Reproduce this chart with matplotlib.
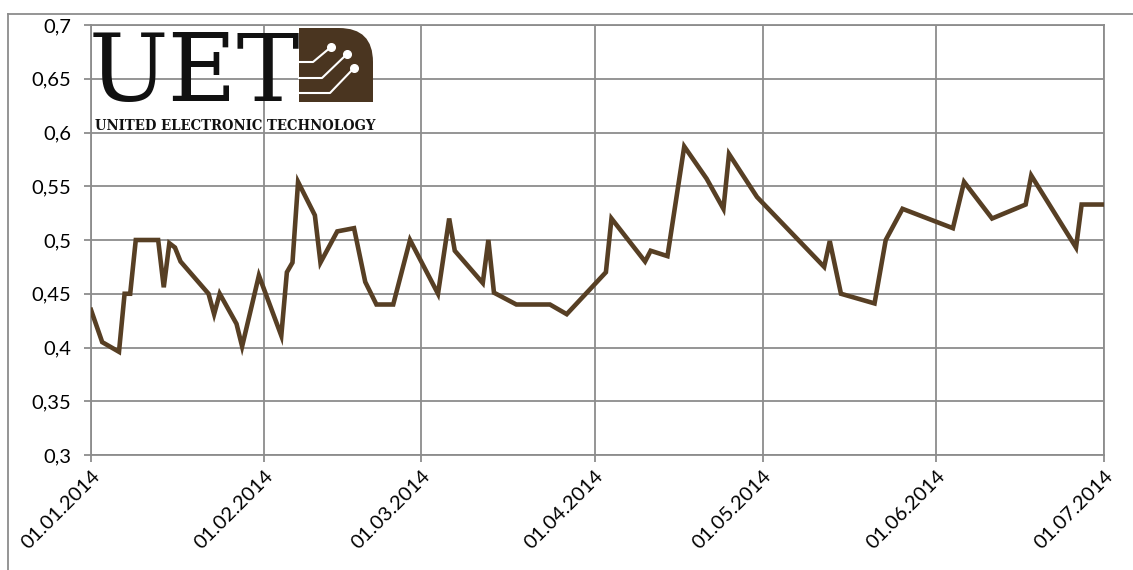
import pandas as pd
import matplotlib
matplotlib.use("Agg")
from matplotlib import pyplot as plt
from matplotlib.path import Path
from matplotlib.patches import PathPatch
from matplotlib.lines import Line2D

plt.rcParams['font.family'] = ['Lato', 'DejaVu Sans']

# данные
dates = ["01.01.2014", "03.01.2014", "06.01.2014", "07.01.2014", "08.01.2014", "09.01.2014",
         "13.01.2014", "14.01.2014", "15.01.2014", "16.01.2014", "17.01.2014", "22.01.2014",
         "23.01.2014", "24.01.2014", "27.01.2014", "28.01.2014", "31.01.2014", "04.02.2014",
         "05.02.2014", "06.02.2014", "07.02.2014", "10.02.2014", "11.02.2014", "14.02.2014",
         "17.02.2014", "19.02.2014", "21.02.2014", "24.02.2014", "26.02.2014", "27.02.2014",
         "04.03.2014", "06.03.2014", "07.03.2014", "12.03.2014", "13.03.2014", "14.03.2014",
         "18.03.2014", "24.03.2014", "27.03.2014", "03.04.2014", "04.04.2014", "10.04.2014",
         "11.04.2014", "14.04.2014", "17.04.2014", "21.04.2014", "24.04.2014", "25.04.2014",
         "30.04.2014", "12.05.2014", "13.05.2014", "15.05.2014", "21.05.2014", "23.05.2014",
         "26.05.2014", "04.06.2014", "06.06.2014", "11.06.2014", "17.06.2014", "18.06.2014",
         "26.06.2014", "27.06.2014", "01.07.2014"]
prices = [0.435, 0.405, 0.396, 0.45, 0.45, 0.50,
          0.50, 0.456, 0.497, 0.493, 0.48, 0.45,
          0.431, 0.45, 0.422, 0.401, 0.467, 0.411,
          0.47, 0.479, 0.554, 0.523, 0.479, 0.508,
          0.511, 0.461, 0.44, 0.44, 0.48, 0.50,
          0.45, 0.52, 0.49, 0.46, 0.50, 0.451,
          0.44, 0.44, 0.431, 0.47, 0.52, 0.48,
          0.49, 0.485, 0.587, 0.557, 0.529, 0.58,
          0.54, 0.475, 0.499, 0.45, 0.441, 0.50,
          0.529, 0.511, 0.554, 0.52, 0.533, 0.56,
          0.493, 0.533, 0.533]

x_ticks = ["01.01.2014", "01.02.2014", "01.03.2014", "01.04.2014",
           "01.05.2014", "01.06.2014", "01.07.2014"]
y_ticks = [0.3, 0.35, 0.4, 0.45, 0.5, 0.55, 0.6, 0.65, 0.7]
y_labels = ["0,3", "0,35", "0,4", "0,45", "0,5", "0,55", "0,6", "0,65", "0,7"]

df = pd.DataFrame({"date": pd.to_datetime(dates, format="%d.%m.%Y"), "price": prices})
xt = pd.to_datetime(x_ticks, format="%d.%m.%Y")

W, H = 1133, 570
fig = plt.figure(figsize=(W / 100, H / 100), dpi=100)
grid_c = "#8c8c8c"

ax = fig.add_axes([91 / W, 1 - 455 / H, (1104 - 91) / W, (455 - 25) / H])
ax.plot(df["date"], df["price"], color="#573f24", lw=3.3, solid_joinstyle="miter", zorder=3)
ax.set_xlim(xt[0], xt[-1])
ax.set_ylim(0.3, 0.7)
ax.set_xticks(xt)
ax.set_xticklabels(x_ticks, rotation=45, ha="right", va="top", rotation_mode="anchor", fontsize=14.5)
ax.set_yticks(y_ticks)
ax.set_yticklabels(y_labels, fontsize=14.5)
ax.grid(True, color=grid_c, lw=1.3)
ax.set_axisbelow(True)
for s in ax.spines.values():
    s.set_color(grid_c)
    s.set_linewidth(1.3)
ax.tick_params(axis="both", color=grid_c, length=5, width=1.3)
ax.tick_params(axis="y", pad=9)
ax.tick_params(axis="x", pad=4)

# внешняя рамка
fig.add_artist(Line2D([8 / W, 8 / W], [0, 1 - 14 / H], color=grid_c, lw=1.3))
fig.add_artist(Line2D([8 / W, 1], [1 - 14 / H, 1 - 14 / H], color=grid_c, lw=1.3))

# логотип
lx0, lx1, ly0, ly1 = 85, 376, 26, 134
lg = fig.add_axes([lx0 / W, 1 - ly1 / H, (lx1 - lx0) / W, (ly1 - ly0) / H])
lg.set_xlim(lx0, lx1)
lg.set_ylim(ly1, ly0)
lg.axis("off")
lg.patch.set_alpha(0)
lg.text(89, 101, "UET", family="DejaVu Serif", fontsize=68, color="#111111",
        ha="left", va="baseline")
r = 34
verts = [(299, 102), (299, 28), (373 - r, 28), (373, 28), (373, 28 + r), (373, 102), (299, 102)]
codes = [Path.MOVETO, Path.LINETO, Path.LINETO, Path.CURVE3, Path.CURVE3, Path.LINETO, Path.CLOSEPOLY]
lg.add_patch(PathPatch(Path(verts, codes), facecolor="#4a3520", edgecolor="none"))
for (yh, xb, xd, yd) in [(62, 313, 331, 47), (78, 322, 347, 54), (93, 330, 354, 68)]:
    lg.plot([299, xb, xd], [yh, yh, yd], color="white", lw=1.5)
    lg.plot(xd, yd, "o", color="white", ms=5.5)
lg.text(95, 130, "UNITED ELECTRONIC TECHNOLOGY", family="DejaVu Serif", weight="bold",
        stretch="condensed", fontsize=10.6, color="#111111", ha="left", va="baseline")

plt.savefig("out.png", dpi=100)
